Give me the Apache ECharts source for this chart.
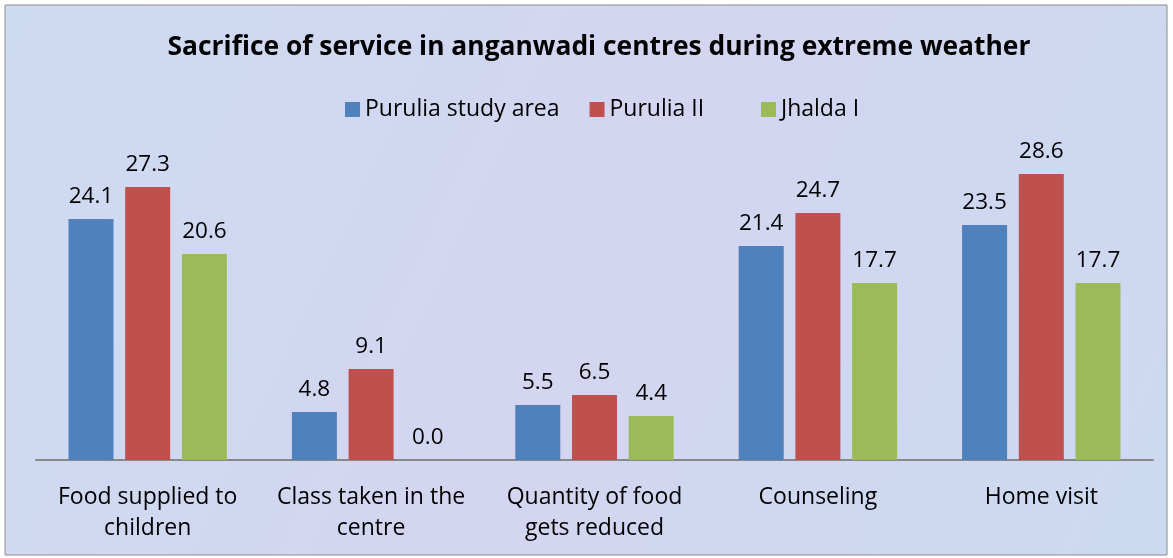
<!DOCTYPE html>
<html><head><meta charset="utf-8">
<script src="https://cdn.jsdelivr.net/npm/echarts@6/dist/echarts.min.js"></script>
<style>html,body{margin:0;padding:0;background:#fff}#c{width:1173px;height:558px}</style>
</head><body><div id="c"></div>
<script>
const categories = ["Food supplied to\nchildren", "Class taken in the\ncentre", "Quantity of food\ngets reduced", "Counseling", "Home visit"];
const seriesNames = ["Purulia study area", "Purulia II", "Jhalda I"];
const puruliaStudyArea = [24.1, 4.8, 5.5, 21.4, 23.5];
const puruliaII = [27.3, 9.1, 6.5, 24.7, 28.6];
const jhaldaI = [20.6, 0.0, 4.4, 17.7, 17.7];
const colors = ["#4f81bd", "#c0504d", "#9bbb59"];
const font = "'Open Sans', 'Noto Sans', sans-serif";

const chart = echarts.init(document.getElementById('c'), null, {renderer: 'canvas'});
const mk = (name, data, color) => ({
  name, type: 'bar', data, barWidth: 45, barGap: '26%',
  itemStyle: {color},
  label: {show: true, position: 'top', distance: 11, color: '#000', fontSize: 22.5, fontFamily: font,
    formatter: p => p.value.toFixed(1)}
});
const legendBase = {top: 93, itemWidth: 15, itemHeight: 15, icon: 'rect',
  textStyle: {fontFamily: font, fontSize: 23, color: '#000'}};
chart.setOption({
  backgroundColor: '#fff',
  graphic: [{type: 'rect', shape: {x: 5, y: 5, width: 1162, height: 550},
    style: {fill: new echarts.graphic.LinearGradient(0, 0, 1, 1, [
      {offset: 0, color: '#cddbf2'}, {offset: 0.5, color: '#d4d5f0'}, {offset: 1, color: '#cbdaf1'}]),
      stroke: '#8c8c8c', lineWidth: 1}, z: -10, silent: true}],
  title: {text: 'Sacrifice of service in anganwadi centres during extreme weather', left: 594, textAlign: 'center', top: 29,
    textStyle: {fontFamily: font, fontSize: 26.4, fontWeight: 'bold', color: '#000'}},
  legend: [
    Object.assign({}, legendBase, {left: 340, itemGap: 30, data: seriesNames.slice(0, 2)}),
    Object.assign({}, legendBase, {left: 756, data: seriesNames.slice(2)})
  ],
  grid: {left: 36, right: 20, top: 160, bottom: 98},
  xAxis: {type: 'category', data: categories,
    axisLine: {lineStyle: {color: '#888', width: 2}}, axisTick: {show: false},
    axisLabel: {fontFamily: font, fontSize: 23, color: '#000', margin: 22, lineHeight: 31, interval: 0}},
  yAxis: {type: 'value', min: 0, max: 30, show: false, splitLine: {show: false}},
  series: [mk(seriesNames[0], puruliaStudyArea, colors[0]), mk(seriesNames[1], puruliaII, colors[1]), mk(seriesNames[2], jhaldaI, colors[2])]
});
</script></body></html>
